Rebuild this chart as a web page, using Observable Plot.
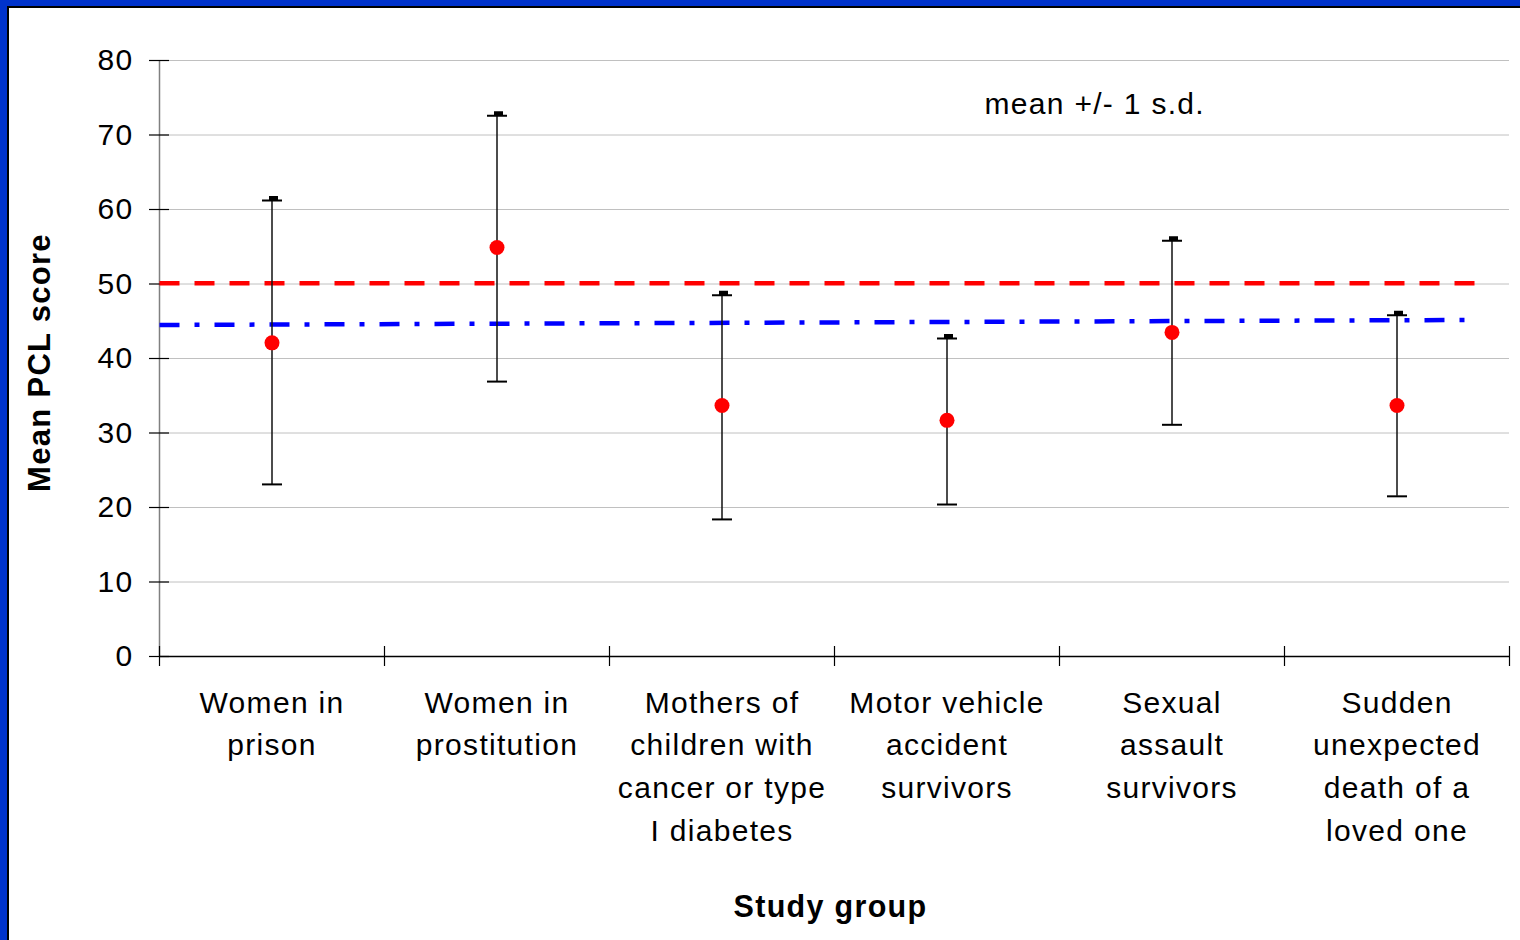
<!DOCTYPE html>
<html><head><meta charset="utf-8">
<script src="https://cdn.jsdelivr.net/npm/d3@7"></script>
<script src="https://cdn.jsdelivr.net/npm/@observablehq/plot@0.6"></script>
<style>
body{margin:0;width:1520px;height:940px;overflow:hidden;background:#0033cc;font-family:"Liberation Sans",Arial,sans-serif;}
#inner1{position:absolute;left:7px;top:6px;right:0;bottom:0;background:#000;}
#inner2{position:absolute;left:9px;top:8px;right:0;bottom:0;background:#fff;}
#chart{position:absolute;left:0;top:0;}
#chart svg text{letter-spacing:1.3px;}
</style></head><body>
<div id="inner1"></div><div id="inner2"></div><div id="chart"></div>
<script>
const groups = ["Women in prison", "Women in prostitution", "Mothers of children with cancer or type I diabetes", "Motor vehicle accident survivors", "Sexual assault survivors", "Sudden unexpected death of a loved one"];
const groupLabels = ["Women in\nprison", "Women in\nprostitution", "Mothers of\nchildren with\ncancer or type\nI diabetes", "Motor vehicle\naccident\nsurvivors", "Sexual\nassault\nsurvivors", "Sudden\nunexpected\ndeath of a\nloved one"];
const means = [42.1, 54.9, 33.7, 31.7, 43.5, 33.7];
const upper = [61.2, 72.6, 48.5, 42.7, 55.8, 45.8];
const lower = [23.1, 36.9, 18.4, 20.4, 31.1, 21.5];
const yTicks = [0, 10, 20, 30, 40, 50, 60, 70, 80];
const xBoundaries = [0, 1, 2, 3, 4, 5, 6];
const refLineX = [0, 5.87];
const refLineY = [50.1, 50.1];
const trendLineX = [0, 5.81];
const trendLineY = [44.5, 45.17];
const yLabel = "Mean PCL score";
const xLabel = "Study group";
const noteText = "mean +/- 1 s.d.";

const rows = groups.map((g, i) => ({group: g, label: groupLabels[i], pos: i + 0.5, mean: means[i], hi: upper[i], lo: lower[i]}));
const refLine = refLineX.map((x, i) => ({x, y: refLineY[i]}));
const trendLine = trendLineX.map((x, i) => ({x, y: trendLineY[i]}));

const capSymbol = {draw(ctx, size) { const w = Math.sqrt(size / Math.PI); ctx.moveTo(-w, 0); ctx.lineTo(w, 0); }};
const topCapSymbol = {draw(ctx, size) { const w = Math.sqrt(size / Math.PI); ctx.moveTo(-w, 0); ctx.lineTo(w, 0); ctx.moveTo(-2, -1); ctx.lineTo(5, -1); ctx.lineTo(5, -3.5); ctx.lineTo(-2, -3.5); ctx.closePath(); }};

const font = "Liberation Sans, Arial, sans-serif";

const chart = Plot.plot({
  width: 1520,
  height: 940,
  marginLeft: 159,
  marginRight: 11,
  marginTop: 60,
  marginBottom: 284,
  style: {background: "transparent", fontFamily: font, overflow: "visible"},
  x: {domain: [0, 6], label: null},
  y: {domain: [0, 80], label: null},
  marks: [
    Plot.gridY(yTicks.filter(v => v > 0), {stroke: "#c0c0c0", strokeOpacity: 1, strokeWidth: 1}),
    Plot.ruleX([0], {stroke: "#808080", strokeWidth: 1.5}),
    Plot.axisY(yTicks, {tickSize: 20, dx: 10, tickPadding: 16, fontSize: 30, stroke: "#000", strokeWidth: 1.2, label: null}),
    Plot.ruleY([0], {stroke: "#000", strokeWidth: 1.5}),
    Plot.axisX(xBoundaries, {tickSize: 20, dy: -10, tickFormat: () => "", stroke: "#000", strokeWidth: 1.2, label: null}),
    Plot.text(rows, {x: "pos", text: "label", frameAnchor: "bottom", lineAnchor: "top", dy: 26, fontSize: 30, lineHeight: 1.42}),
    Plot.line(refLine, {x: "x", y: "y", stroke: "#ff0000", strokeWidth: 4.5, strokeDasharray: "20,15", strokeLinecap: "butt"}),
    Plot.line(trendLine, {x: "x", y: "y", stroke: "#0000ff", strokeWidth: 4.5, strokeDasharray: "20,15,5,15", strokeLinecap: "butt"}),
    Plot.ruleX(rows, {x: "pos", y1: "lo", y2: "hi", stroke: "#111", strokeWidth: 1.5}),
    Plot.dot(rows, {x: "pos", y: "hi", symbol: topCapSymbol, r: 10, stroke: "#000", fill: "#000", strokeWidth: 2}),
    Plot.dot(rows, {x: "pos", y: "lo", symbol: capSymbol, r: 10, stroke: "#000", fill: "none", strokeWidth: 2}),
    Plot.dot(rows, {x: "pos", y: "mean", r: 7.5, fill: "#ff0000", stroke: "none"}),
    Plot.text([noteText], {frameAnchor: "top-left", dx: 825, dy: 44, textAnchor: "start", lineAnchor: "middle", fontSize: 30}),
    Plot.text([yLabel], {frameAnchor: "left", textAnchor: "middle", lineAnchor: "middle", rotate: -90, dx: -119, dy: 4, fontSize: 31, fontWeight: "bold"}),
    Plot.text([xLabel], {frameAnchor: "bottom", dx: -4, dy: 251, lineAnchor: "middle", fontSize: 30.5, fontWeight: "bold"})
  ]
});
document.getElementById("chart").appendChild(chart);
</script>
</body></html>
